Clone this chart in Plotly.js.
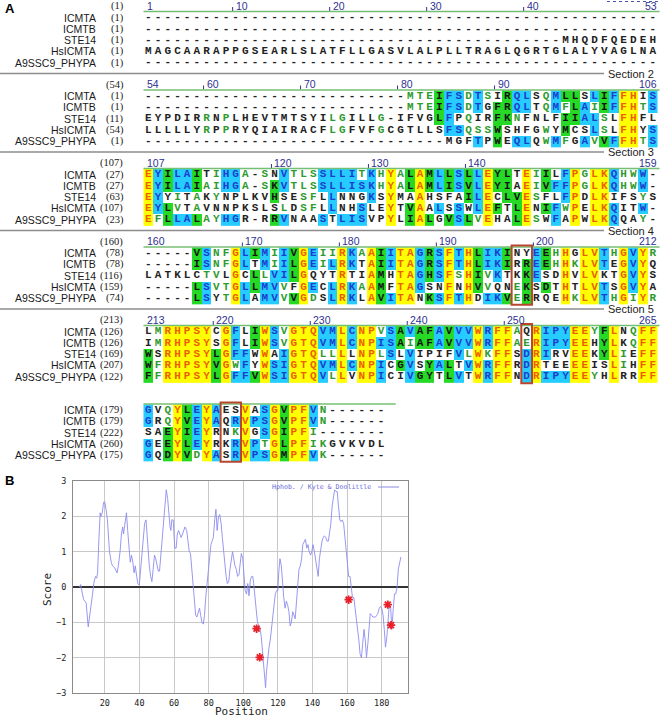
<!DOCTYPE html>
<html><head><meta charset="utf-8">
<script src="https://cdn.plot.ly/plotly-3.0.1.min.js"></script>
<style>html,body{margin:0;padding:0;background:#fff}#chart{width:661px;height:717px}</style>
</head><body><div id="chart"></div>
<script>
// ---------------- DATA ----------------
const NAMES = ["ICMTA", "ICMTB", "STE14", "HsICMTA", "A9SSC9_PHYPA"];
const D10 = "----------";
const SEQ_ICMTA = [
  D10 + D10 + D10 + D10 + D10 + "---",
  D10 + D10 + "-------" + "MTEIFSDTSIRQLSQMLLSLIFFHIS",
  "EYILAITIHGA-SNVTLSSLLITKHYALAMLLSLLEYLTEIILFPGLKQHWW-",
  "-----VSNFGLIMIIVGEIIRKAAIITAGRSFTHLIKINYEEHHGLVTHGVYR",
  "LMRHPSYCGFLIWSVGTQVMLCNPVSAVAFAVVVWRFFAQRIPYEEYFLNQFF",
  "GVQYLEYAESVASGVPFVN------"
];
const SEQ_ICMTB = [
  D10 + D10 + D10 + D10 + D10 + "---",
  D10 + D10 + "-------" + "MTEIFSDTGFRQLTQMFLAIIFFHTS",
  "EYILAIAIHGA-SKVTLSSLLISKHYALAMLISVLEYIAEIVFFPGLKQHWW-",
  "-----ISNFGLTMIILGEILRKTAIITAGRSFTHLIKIRREEHHKLVTEGVYQ",
  "IMRHPSYSGFLIWSVGTQVMLCNPISAIAFAVVVWRFFAERIPYEEHYLKQFF",
  "GRQYVEYAQRVPSGVPFVN------"
];
const SEQ_STE14 = [
  D10 + D10 + D10 + D10 + "---" + "MHQDFQEDEH",
  "EYPDIRRNPLHEVTMTSYILGILLG-IFVGLFPQIRFKNFNLFIIALSLFHFL",
  "EYYITAKYNPLKVHSESFLLNNGKSYMAAHSFAILECLVESFLFPDLKIFSYS",
  "LATKLCTVLGCLLVILGQYTRTIAMHTAGHSFSHIVKTKKESDHVLVKTGVYS",
  "WSRHPSYLGFFWWAIGTQLLLLNPLSLVIPIFVLWKFFSDRIRVEEKYLIEFF",
  "SAEYIEYRNKVGSGIPFI-------"
];
const SEQ_HSICMTA = [
  "MAGCAARAPPGSEARLSLATFLLGASVLALPLLTRAGLQGRTGLALYVAGLNA",
  "LLLLLYRPPRYQIAIRACFLGFVFGCGTLLSFSQSSWSHFGWYMCSLSLFHYS",
  "EYLVTAVNNPKSLSLDSFLLNHSLEYTVAALSSWLEFTLENIFWPELKQITW-",
  "-----LSVTGLLMVVFGECLRKAAMFTAGSNFNHVVQNEKSDTHTLVTSGVYA",
  "WFRHPSYVGWFYWSIGTQVMLCNPICGVSYALTVWRFFRDRTEEEEISLIHFF",
  "GEEYLEYRKRVPTGLPFIKGVKVDL"
];
const SEQ_A9SSC9 = [
  D10 + D10 + D10 + D10 + D10 + "---",
  D10 + D10 + D10 + "-" + "MGFTPWEQLQWMFGAVVFFHTS",
  "EFLLALAYHGR-RRVNAASTLISVPYLIALGVSLVEHALESWFAPWLKQQAY-",
  "-----LSYTGLAMVVVGDSLRKLAVITANKSFTHDIKVERRQEHKLVTHGIYR",
  "FFRHPSYLGFFVWSIGTQVLLVNPICIVGYTLVTWRFFNDRIPYEEYHLRRFF",
  "GQDYVDYASRVPSGMPFVK------"
];
const SECTION_TICKS = [
  [1, 10, 20, 30, 40, 53],
  [54, 60, 70, 80, 90, 106],
  [107, 120, 130, 140, 159],
  [160, 170, 180, 190, 200, 212],
  [213, 220, 230, 240, 250, 265]
];
// highlighted columns (section index, first column, last column; 0-based within section)
const BOX_SECTION = [3, 4, 5];
const BOX_FROM = [38, 39, 8];
const BOX_TO = [39, 39, 9];

// Hydropathy (Kyte & Doolittle) profile
const HP_POS = [5.3,6,7.7,9.2,10.4,11.7,12.9,13.6,14.6,15.3,
  15.8,16.6,17.3,17.8,18.5,19.3,20,20.7,21.5,22,
  22.7,23.7,24.4,25.6,26.4,27.1,27.8,28.8,29.6,30.3,
  30.8,31.5,32.5,33.2,34,34.7,35.4,36.2,36.9,37.6,
  38.4,39.1,39.9,40.8,41.6,42.3,43,43.8,44.3,45,
  45.7,46.5,47.2,47.9,48.7,49.4,50.1,50.9,51.6,52.6,
  53.3,54,54.8,55.5,56.3,57,57.7,58.2,58.7,59.5,
  60,60.4,61.2,61.9,62.6,63.4,64.1,64.9,65.6,66.3,
  67.3,68,68.8,69.5,70.2,71,71.7,72.5,73.2,73.9,
  74.7,75.4,76.1,76.9,77.6,78.3,79.1,79.8,80.5,81.3,
  82,82.7,83.5,84.2,84.9,85.7,86.4,87.2,87.9,88.6,
  89.4,90.1,90.8,91.6,92.3,93,93.8,94.5,95.2,96,
  96.7,97.5,98.2,98.9,99.7,100.4,101.1,101.9,102.6,103.3,
  104.1,104.8,105.5,106,106.8,107.5,108.2,109,109.7,110.4,
  111.2,111.9,112.4,112.9,113.4,114.1,114.9,115.6,116.3,117.1,
  117.8,118.5,119.3,120,120.5,121.2,122,122.7,123.4,124.2,
  124.9,125.6,126.4,127.1,127.8,128.6,129.3,130,130.8,131.5,
  132.2,133,133.7,134.4,135.2,135.9,136.7,137.4,138.1,138.9,
  139.6,140.3,141.1,141.8,142.5,143.3,144,144.7,145.5,146.2,
  146.9,147.7,148.4,149.2,149.9,150.6,151.4,152.1,152.8,153.6,
  154.3,155,155.8,156.5,157.2,158,158.7,159.5,160.2,160.9,
  161.7,162.4,163.1,163.9,164.6,165.3,166.1,166.8,167.5,168.3,
  169,169.8,170.5,171.2,172,172.7,173.4,174.2,174.9,175.6,
  176.4,177.1,177.8,178.6,179.3,180,180.8,181.5,182.2,183,
  183.7,184.4,185.2,185.9,186.7,187.4,188.1,188.9,189.6,190.4,
  191.1];
const HP_SCORE = [0,0.07,-0.35,-0.45,-1.13,-0.7,-0.2,0.1,0.3,0.25,
  0.4,1.4,2.1,2.0,2.1,2.4,2.4,2.2,1.9,1.5,
  1.0,0.7,0.6,0.55,0.45,0.4,0.6,1.0,1.5,1.7,
  1.5,1.7,2.1,1.6,1.2,0.7,0.9,0.7,0.4,0.6,
  0.3,0.1,0.05,0.5,1.0,1.4,1.8,1.9,1.5,1.0,
  0.6,0.3,0.15,0.5,0.9,0.8,0.6,0.45,0.45,1.0,
  1.5,1.8,2.3,2.75,2.5,2.0,1.7,1.6,1.9,1.9,
  1.5,1.1,1.1,1.5,1.6,1.5,1.4,1.5,1.6,1.7,
  1.6,1.3,1.0,0.95,0.5,0,-0.4,-0.8,-0.85,-0.7,
  -0.6,-0.8,-1.0,-1.05,-0.8,-0.3,0.1,0.3,0.8,1.2,
  1.3,1.4,1.9,2.2,1.6,2.0,2.05,1.8,1.4,1.0,
  0.6,0.3,0.1,0.15,0.5,0.8,1.0,0.8,0.6,0.5,
  0.3,0.35,0.6,0.95,0.8,0.4,-0.1,-0.2,0.1,-0.25,
  0.2,0.3,0.3,0.1,-0.3,-0.7,-1.0,-1.1,-1.2,-1.4,
  -1.9,-2.2,-2.6,-2.85,-2.4,-2.0,-1.7,-1.5,-1.2,-0.8,
  -0.5,-0.2,-0.1,-0.1,0.4,0.8,0.6,0.1,-0.3,-0.6,
  -0.4,-0.5,-0.7,-1.1,-1.0,-0.7,-0.8,-0.9,-0.4,0.1,
  0.5,0.6,0.8,1.2,1.3,1.35,1.1,1.2,1.0,0.9,
  1.0,1.2,1.0,0.8,0.6,0.3,0.8,1.1,1.3,1.4,
  1.45,1.4,1.3,1.3,1.5,1.8,2.3,2.6,2.75,2.7,
  2.7,2.3,1.9,1.85,1.9,1.8,1.4,1.0,0.6,0.3,
  0.3,-0.1,-0.3,-0.3,-0.6,-0.8,-1.1,-1.5,-1.9,-2.0,
  -1.6,-1.2,-1.5,-2.0,-1.6,-1.0,-0.75,-0.8,-0.85,-0.85,
  -0.85,-0.8,-0.75,-0.6,-0.55,-0.6,-0.8,-1.2,-1.7,-1.4,
  -0.9,-0.5,-0.6,-1.2,-0.6,-0.2,-0.2,0.0,0.5,0.75,
  0.85];
const STAR_POS = [107.7, 109.5, 160.9, 183.5, 185.4];
const STAR_SCORE = [-1.18, -1.99, -0.36, -0.5, -1.08];
const X_TICKS = [20, 40, 60, 80, 100, 120, 140, 160, 180];
const Y_TICKS = [-3, -2, -1, 0, 1, 2, 3];
const LEGEND_TEXT = "Hphob. / Kyte & Doolittle";

// ---------------- LAYOUT GEOMETRY ----------------
const W = 661, H = 717;
const LEFT = 143.5, CW = 9.7;          // alignment grid
const HDR0 = 6, SEC_PITCH = 78.5, ROW0 = 11.5, ROW_PITCH = 11.3;
const NCOL = 53;
const secH = s => HDR0 + SEC_PITCH * s;
const rowY = (s, r) => secH(s) + ROW0 + ROW_PITCH * r;
const px2c = px => (px - LEFT) / CW - 0.5;
const colPx = k => LEFT + CW * (k + 0.5);

const ALL = [SEQ_ICMTA, SEQ_ICMTB, SEQ_STE14, SEQ_HSICMTA, SEQ_A9SSC9];

// similarity groups used to colour the alignment
const GROUPS = ["ILMV", "FWY", "KRH", "DE", "NQ", "ST", "AG", "C", "P"];
const grp = c => GROUPS.findIndex(g => g.includes(c));
function classify(col) {
  const cnt = {};
  col.forEach(c => { if (c !== '-') cnt[c] = (cnt[c] || 0) + 1; });
  let best = null, n = 0;
  for (const k in cnt) if (cnt[k] > n) { n = cnt[k]; best = k; }
  if (n === col.length) return col.map(() => 'Y');
  if (n >= 3) return col.map(c => c === '-' ? 'N' : c === best ? 'C' : (grp(c) === grp(best) ? 'W' : 'N'));
  const gc = {};
  col.forEach(c => { if (c !== '-') { const g = grp(c); gc[g] = (gc[g] || 0) + 1; } });
  let bg = null, m = 0;
  for (const k in gc) if (gc[k] > m) { m = gc[k]; bg = +k; }
  if (m >= 3) return col.map(c => c !== '-' && grp(c) === bg ? 'G' : (c !== '-' && cnt[c] >= 2 ? 'W' : 'N'));
  return col.map(c => c !== '-' && cnt[c] >= 2 ? 'W' : 'N');
}
const BG = {Y: '#FFFF00', C: '#26CCFF', G: '#26D926', W: '#FFFFFF', N: '#FFFFFF'};
const FG = {Y: '#EC5F00', C: '#1C3FCC', G: '#141414', W: '#2E9B2E', N: '#222222'};
const ZV = {Y: 1, C: 2, G: 3, W: 0, N: 0};
const CSCALE = [[0, '#FFFFFF'], [0.1667, '#FFFFFF'], [0.1667, BG.Y], [0.5, BG.Y],
                [0.5, BG.C], [0.8333, BG.C], [0.8333, BG.G], [1, BG.G]];

const traces = [], ann = [], shapes = [];
const nameFont = {family: 'Liberation Sans, Arial, sans-serif', size: 10.5, color: '#1a1a1a'};
const numFont = {family: 'Liberation Serif, Times New Roman, serif', size: 10.5, color: '#1a1a1a'};
const blueFont = {family: 'Liberation Sans, Arial, sans-serif', size: 10.5, color: '#2E3192'};

function posLabel(txt, y) {
  const threeDigit = txt.length >= 5;
  ann.push({xref: 'x2', yref: 'y2', x: px2c(threeDigit ? 98 : 125.5), y: y, text: txt,
    xanchor: threeDigit ? 'left' : 'right', yanchor: 'middle', showarrow: false, font: numFont});
}

const residuesBefore = ALL.map(() => 1);
for (let s = 0; s < 6; s++) {
  const rows = ALL.map(a => a[s]);
  const ncol = rows[0].length;
  const cls = rows.map(() => new Array(ncol));
  for (let c = 0; c < ncol; c++) {
    const k = classify(rows.map(r => r[c]));
    k.forEach((v, r) => { cls[r][c] = v; });
  }
  const ys = rows.map((_, r) => rowY(s, r));
  const xs = [...Array(ncol).keys()];
  traces.push({type: 'heatmap', xaxis: 'x2', yaxis: 'y2', x: xs, y: ys,
    z: cls.map(row => row.map(v => ZV[v])), zmin: 0, zmax: 3, colorscale: CSCALE,
    showscale: false, hoverinfo: 'skip'});
  const tx = [], ty = [], tt = [], tc = [];
  rows.forEach((seq, r) => {
    for (let c = 0; c < ncol; c++) { tx.push(c); ty.push(ys[r]); tt.push(seq[c]); tc.push(FG[cls[r][c]]); }
  });
  traces.push({type: 'scatter', mode: 'text', xaxis: 'x2', yaxis: 'y2', x: tx, y: ty, text: tt,
    textposition: 'middle center', cliponaxis: false, hoverinfo: 'skip',
    textfont: {family: 'Liberation Mono, DejaVu Sans Mono, monospace', size: 11, weight: 'bold', color: tc}});
  // names and start numbers
  rows.forEach((seq, r) => {
    ann.push({xref: 'x2', yref: 'y2', x: px2c(97.5), y: ys[r], text: NAMES[r], xanchor: 'right',
      yanchor: 'middle', showarrow: false, font: nameFont});
    posLabel('(' + residuesBefore[r] + ')', ys[r]);
    residuesBefore[r] += seq.replace(/-/g, '').length;
  });
  // header
  const h = secH(s);
  if (s < 5) {
    posLabel('(' + (1 + NCOL * s) + ')', h);
    const ticks = SECTION_TICKS[s];
    const start = 1 + NCOL * s;
    ticks.forEach((t, i) => {
      const k = t - start;
      let x, anchor;
      if (i === 0) { x = px2c(LEFT + 1); anchor = 'left'; }
      else if (i === ticks.length - 1) { x = px2c(659); anchor = 'right'; }
      else {
        x = px2c(colPx(k) - 2); anchor = 'left';
        shapes.push({type: 'line', xref: 'x2', yref: 'y2', x0: px2c(colPx(k) - 3), x1: px2c(colPx(k) - 3),
          y0: h + 1, y1: h + 5, line: {color: '#2E3192', width: 1}});
      }
      ann.push({xref: 'x2', yref: 'y2', x: x, y: h - 0.5, text: String(t), xanchor: anchor, yanchor: 'middle',
        showarrow: false, font: blueFont});
    });
  }
  shapes.push({type: 'line', xref: 'x2', yref: 'y2', x0: -0.5, x1: (s < 5 ? NCOL : ncol + 1) - 0.5 + (s < 5 ? 0.2 : 0),
    y0: h + 5.5, y1: h + 5.5, line: {color: '#74BF74', width: 1.5}});
  // separator before next section
  if (s >= 1 && s <= 4) {
    const ySep = h - 11;
    shapes.push({type: 'line', xref: 'x2', yref: 'y2', x0: px2c(0), x1: px2c(604), y0: ySep, y1: ySep,
      line: {color: '#8C8C8C', width: 1.5}});
    ann.push({xref: 'x2', yref: 'y2', x: px2c(606), y: ySep, text: 'Section ' + (s + 1), xanchor: 'left',
      yanchor: 'middle', showarrow: false, font: {family: 'Liberation Sans, Arial, sans-serif', size: 11, color: '#222'}});
  }
}
// cut-off section-1 marker at top right
shapes.push({type: 'line', xref: 'x2', yref: 'y2', x0: px2c(607), x1: px2c(658), y0: 1.5, y1: 1.5,
  line: {color: '#4455AA', width: 1, dash: 'dot'}});
// highlight boxes
BOX_SECTION.forEach((s, i) => {
  shapes.push({type: 'rect', xref: 'x2', yref: 'y2', x0: BOX_FROM[i] - 0.55, x1: BOX_TO[i] + 0.55,
    y0: rowY(s, 0) - 7.5, y1: rowY(s, 4) + 6.5, line: {color: '#B9452C', width: 2}, fillcolor: 'rgba(0,0,0,0)'});
});

// ---------------- PANEL B ----------------
traces.push({type: 'scatter', mode: 'lines', xaxis: 'x', yaxis: 'y', x: HP_POS, y: HP_SCORE,
  line: {color: '#8C8CEE', width: 0.9}, hoverinfo: 'skip', showlegend: false});
traces.push({type: 'scatter', mode: 'markers', xaxis: 'x', yaxis: 'y', x: STAR_POS, y: STAR_SCORE,
  marker: {symbol: 'asterisk-open', size: 7, line: {color: '#E8202A', width: 1.8}, color: '#E8202A'},
  hoverinfo: 'skip', showlegend: false});

const PB = {l: 73, r: 408, t: 481, b: 693};
ann.push({xref: 'x', yref: 'y', x: 175, y: 2.83, text: LEGEND_TEXT, xanchor: 'right', yanchor: 'middle',
  showarrow: false, font: {family: 'DejaVu Sans Mono, monospace', size: 6.6, color: '#6A6AD8'}});
shapes.push({type: 'line', xref: 'x', yref: 'y', x0: 177.9, x1: 190, y0: 2.83, y1: 2.83,
  line: {color: '#8A8AE6', width: 1}});
ann.push({xref: 'paper', yref: 'paper', x: 47 / W, y: 1 - 590 / H, text: 'Score', textangle: -90,
  xanchor: 'center', yanchor: 'middle', showarrow: false,
  font: {family: 'DejaVu Sans Mono, monospace', size: 11, color: '#222'}});
ann.push({xref: 'paper', yref: 'paper', x: 241 / W, y: 1 - 711 / H, text: 'Position',
  xanchor: 'center', yanchor: 'middle', showarrow: false,
  font: {family: 'DejaVu Sans Mono, monospace', size: 11, color: '#222'}});
// panel letters
ann.push({xref: 'paper', yref: 'paper', x: 3 / W, y: 1 - 9 / H, text: '<b>A</b>', xanchor: 'left', yanchor: 'middle',
  showarrow: false, font: {family: 'Liberation Sans, Arial, sans-serif', size: 13, color: '#000'}});
ann.push({xref: 'paper', yref: 'paper', x: 3 / W, y: 1 - 480 / H, text: '<b>B</b>', xanchor: 'left', yanchor: 'middle',
  showarrow: false, font: {family: 'Liberation Sans, Arial, sans-serif', size: 13, color: '#000'}});

const tickFont = {family: 'DejaVu Sans Mono, monospace', size: 8.5, color: '#222'};
const layout = {
  width: W, height: H, margin: {l: 0, r: 0, t: 0, b: 0, pad: 0},
  paper_bgcolor: '#FFFFFF', plot_bgcolor: 'rgba(0,0,0,0)', showlegend: false,
  xaxis2: {domain: [0, 1], range: [px2c(0), px2c(W)], visible: false, fixedrange: true, anchor: 'y2'},
  yaxis2: {domain: [0, 1], range: [H, 0], visible: false, fixedrange: true, anchor: 'x2'},
  xaxis: {domain: [PB.l / W, PB.r / W], range: [1.6, 195.2], anchor: 'y', tickmode: 'array', tickvals: X_TICKS,
    showgrid: true, gridcolor: '#C8C8C8', gridwidth: 1, zeroline: false, showline: true, mirror: true,
    linecolor: '#8A8A8A', linewidth: 1, ticks: '', tickfont: tickFont, ticklabelstandoff: 2},
  yaxis: {domain: [1 - PB.b / H, 1 - PB.t / H], range: [-3, 3], anchor: 'x', tickmode: 'array', tickvals: Y_TICKS,
    showgrid: true, gridcolor: '#C8C8C8', gridwidth: 1, zeroline: true, zerolinecolor: '#333', zerolinewidth: 2,
    showline: true, mirror: true, linecolor: '#8A8A8A', linewidth: 1, ticks: '', tickfont: tickFont, ticklabelstandoff: 4},
  annotations: ann, shapes: shapes
};
Plotly.newPlot('chart', traces, layout, {staticPlot: true, displayModeBar: false});
</script></body></html>
